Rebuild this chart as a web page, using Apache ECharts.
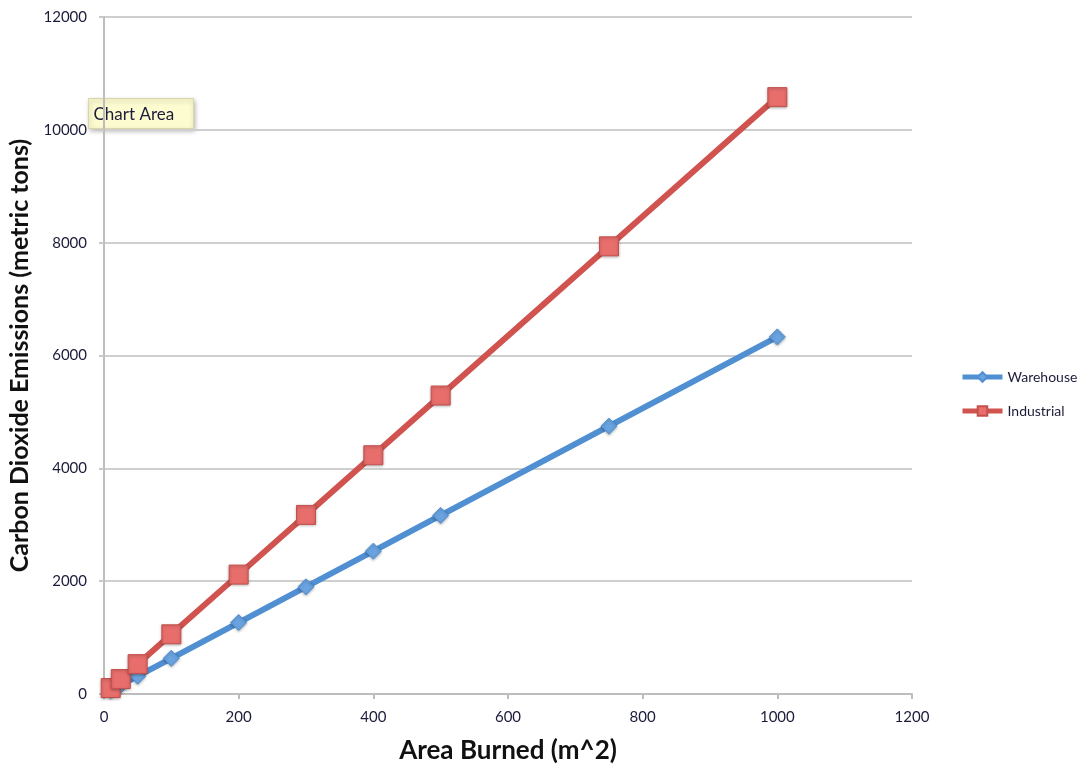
<!DOCTYPE html>
<html>
<head>
<meta charset="utf-8">
<script src="https://cdn.jsdelivr.net/npm/echarts@6/dist/echarts.min.js"></script>
<style>
  html, body { margin: 0; padding: 0; background: #fff; }
  #chart { width: 1091px; height: 769px; }
</style>
</head>
<body>
<div id="chart"></div>
<script>
// Area burned (m^2) and the resulting CO2 emissions (metric tons)
const areaBurned = [10, 25, 50, 100, 200, 300, 400, 500, 750, 1000];
const warehouse  = [63, 158, 316, 633, 1266, 1899, 2532, 3165, 4748, 6330];
const industrial = [106, 265, 529, 1058, 2116, 3174, 4232, 5290, 7935, 10580];
const seriesNames = ['Warehouse', 'Industrial'];

const pairs = (xs, ys) => xs.map((x, i) => [x, ys[i]]);

const chart = echarts.init(document.getElementById('chart'));
const labelFont = 'Lato, "Open Sans", "DejaVu Sans", sans-serif';
const plain = v => String(v);

chart.setOption({
  animation: false,
  grid: { left: 104, right: 179, top: 17, bottom: 75, containLabel: false, outerBoundsMode: 'none' },
  legend: {
    orient: 'vertical',
    left: 955,
    top: 365,
    itemGap: 20,
    itemWidth: 40,
    itemHeight: 12,
    lineStyle: { width: 5 },
    textStyle: { fontFamily: labelFont, fontSize: 14, color: '#1c1c3a' },
    data: seriesNames
  },
  xAxis: {
    type: 'value',
    min: 0, max: 1200, interval: 200,
    name: 'Area Burned (m^2)',
    nameLocation: 'middle',
    nameGap: 44,
    nameTextStyle: { fontFamily: labelFont, fontSize: 26, fontWeight: 'bold', color: '#111' },
    axisLine: { show: true, lineStyle: { color: '#bdbdbd', width: 2 } },
    axisTick: { show: true, inside: false, length: 5, lineStyle: { color: '#bdbdbd', width: 2 } },
    axisLabel: { fontFamily: labelFont, fontSize: 15, color: '#1c1c3a', margin: 16, formatter: plain },
    splitLine: { show: false }
  },
  yAxis: {
    type: 'value',
    min: 0, max: 12000, interval: 2000,
    name: 'Carbon Dioxide Emissions (metric tons)',
    nameLocation: 'middle',
    nameGap: 70,
    nameTextStyle: { fontFamily: labelFont, fontSize: 25, fontWeight: 'bold', color: '#111' },
    axisLine: { show: true, lineStyle: { color: '#bdbdbd', width: 2 } },
    axisTick: { show: true, inside: false, length: 5, lineStyle: { color: '#c8c8c8', width: 2 } },
    axisLabel: { fontFamily: labelFont, fontSize: 15, color: '#1c1c3a', margin: 17, formatter: plain },
    splitLine: { show: true, lineStyle: { color: '#cfcfcf', width: 2 } }
  },
  series: [
    {
      name: seriesNames[0],
      type: 'line',
      data: pairs(areaBurned, warehouse),
      symbol: 'diamond',
      symbolSize: 16,
      lineStyle: { color: '#4f8fd2', width: 6 },
      itemStyle: {
        color: '#6aa3df', borderColor: '#4f8fd2', borderWidth: 1,
        shadowColor: 'rgba(0,0,0,0.3)', shadowBlur: 3, shadowOffsetY: 1
      },
      z: 2
    },
    {
      name: seriesNames[1],
      type: 'line',
      data: pairs(areaBurned, industrial),
      symbol: 'rect',
      symbolSize: 19,
      lineStyle: { color: '#d0534f', width: 6 },
      itemStyle: {
        color: '#e86e6c', borderColor: '#c4504c', borderWidth: 1,
        shadowColor: 'rgba(0,0,0,0.3)', shadowBlur: 3, shadowOffsetY: 1
      },
      z: 3
    }
  ],
  graphic: [
    {
      type: 'group',
      left: 88,
      top: 98,
      z: 100,
      children: [
        {
          type: 'rect',
          shape: { x: 0, y: 0, width: 105, height: 30 },
          style: {
            fill: '#fdfbd0', stroke: '#d8d6a8', lineWidth: 1,
            shadowColor: 'rgba(0,0,0,0.3)', shadowBlur: 5, shadowOffsetX: 1, shadowOffsetY: 2
          }
        },
        {
          type: 'text',
          style: {
            x: 5, y: 16, text: 'Chart Area', verticalAlign: 'middle',
            font: '17px ' + labelFont, fill: '#1c1c3a'
          }
        }
      ]
    }
  ]
});
</script>
</body>
</html>
